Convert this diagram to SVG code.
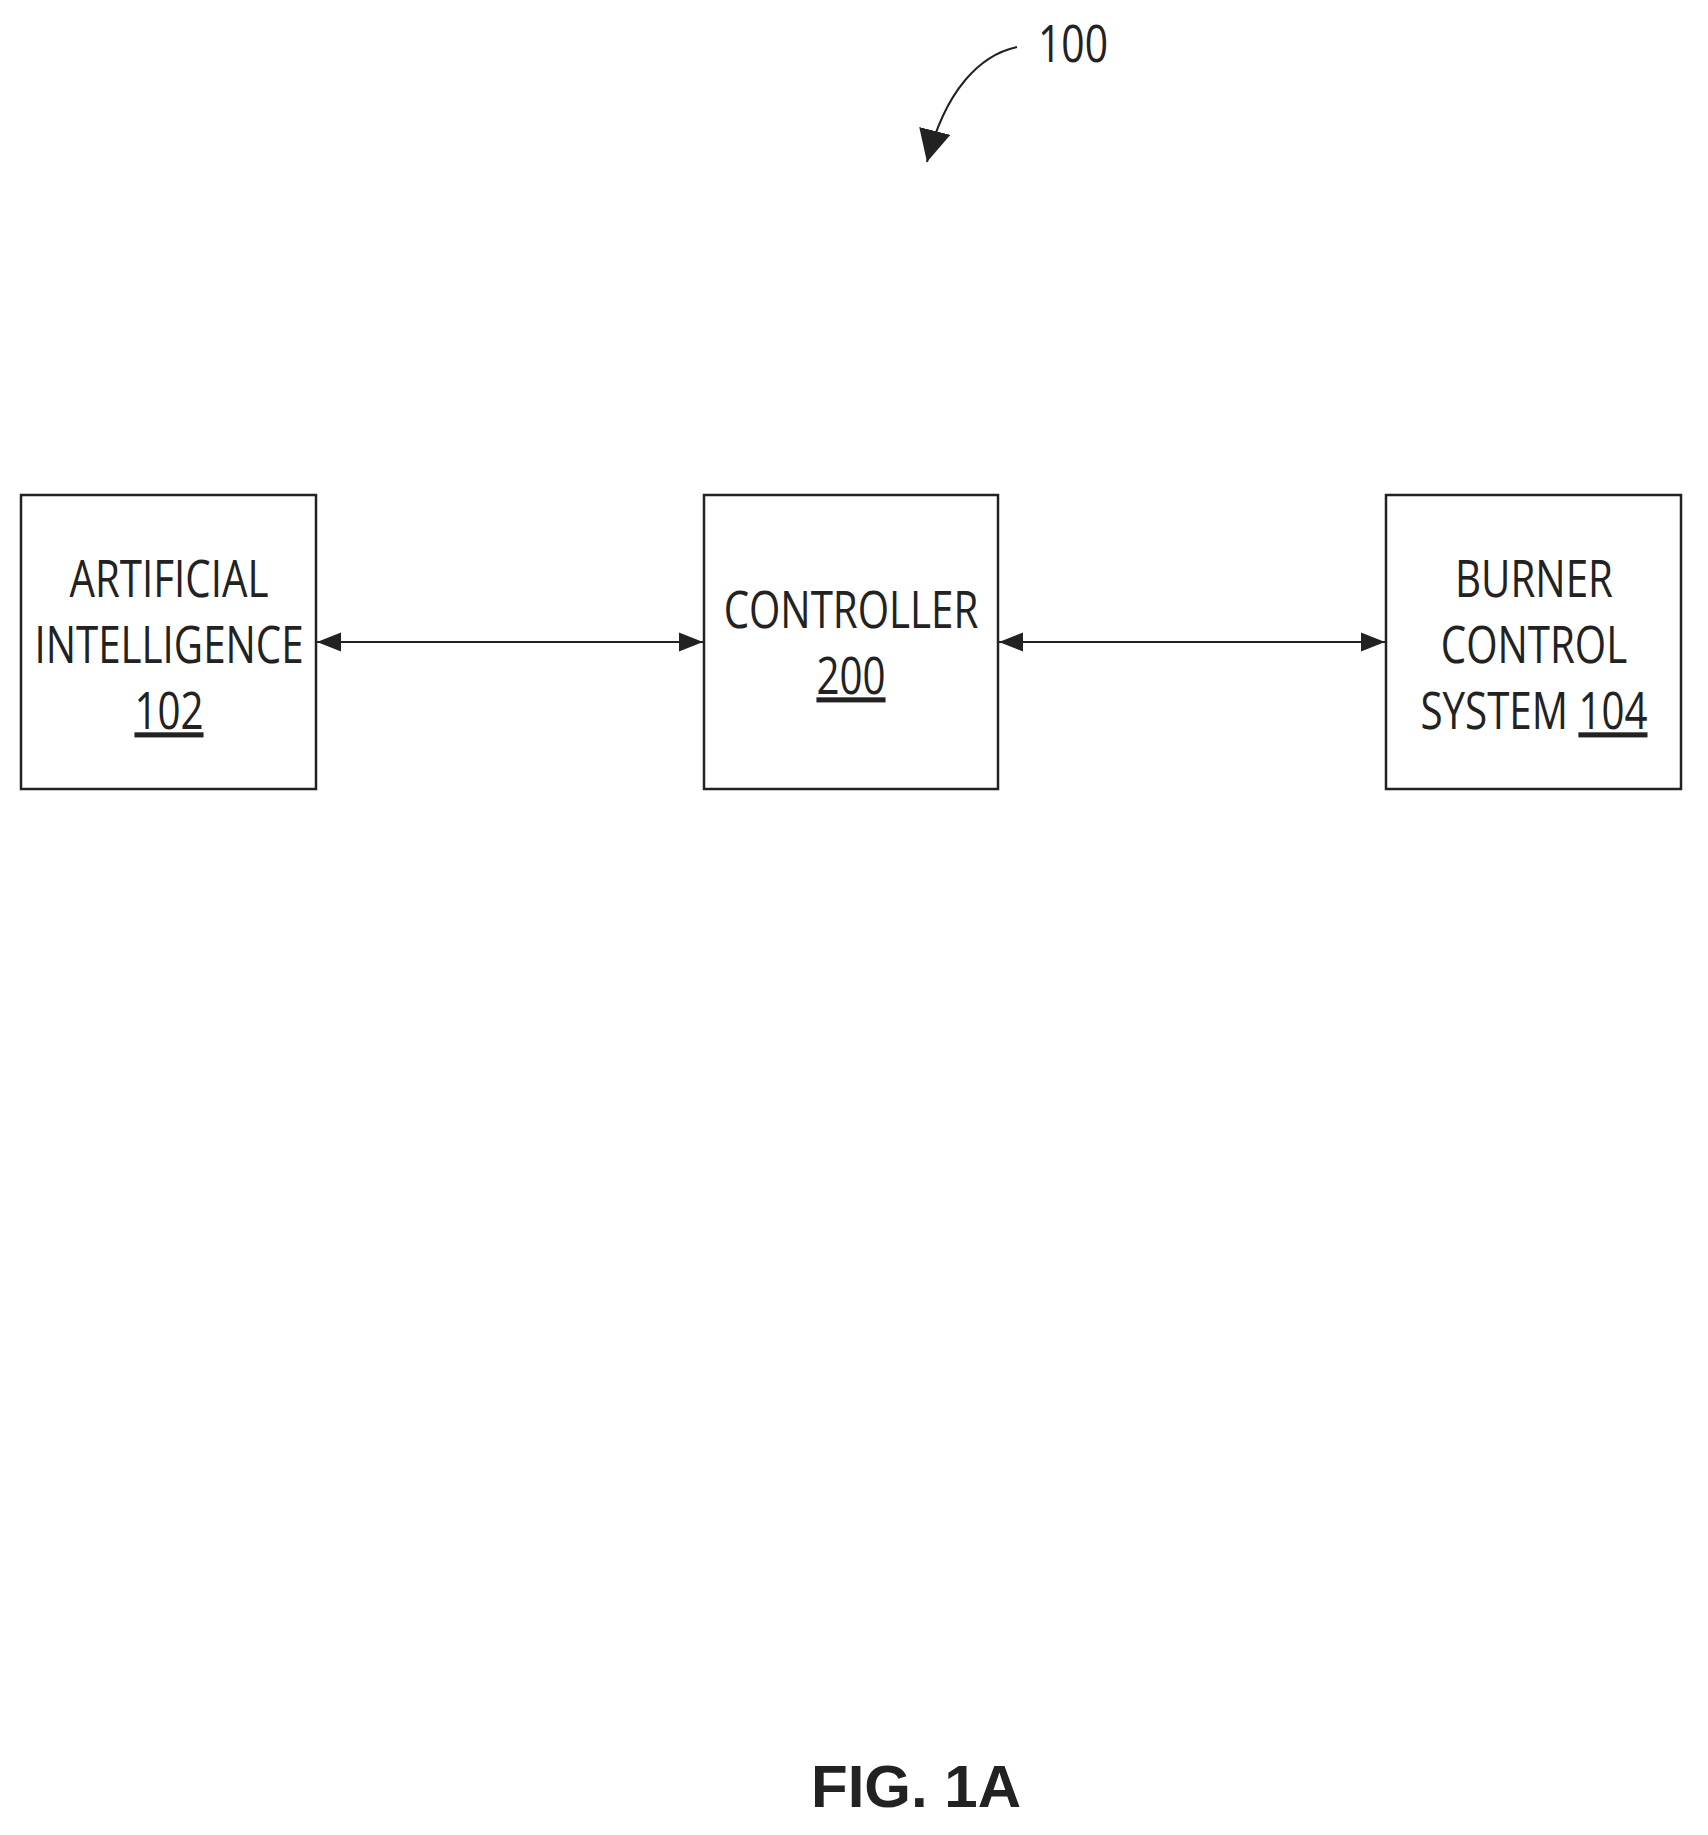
<svg xmlns="http://www.w3.org/2000/svg" width="1708" height="1835" viewBox="0 0 1708 1835">
<style>
.box{fill:#fff;stroke:#222;stroke-width:2.5}
.t{font-family:"Open Sans","Liberation Sans",sans-serif;font-size:51px;fill:#222;text-anchor:middle}
.c{stroke:#222;stroke-width:2;fill:none}
</style>
<defs>
<marker id="ab" viewBox="0 0 10 10" refX="10" refY="5" markerWidth="24" markerHeight="24" orient="auto-start-reverse" markerUnits="userSpaceOnUse"><path d="M0,1 L10,5 L0,9 z" fill="#222"/></marker>
<marker id="ac" viewBox="0 0 10 10" refX="10" refY="5" markerWidth="32" markerHeight="32" orient="auto" markerUnits="userSpaceOnUse"><path d="M0,0 L10,5 L0,10 z" fill="#222"/></marker>
</defs>
<rect width="1708" height="1835" fill="#fff"/>
<g id="n100">
<text class="t" x="1073" y="62" transform="translate(1073 0) scale(0.8 1) translate(-1073 0)">100</text>
</g>
<g id="n102">
<rect class="box" x="21" y="495" width="295" height="294"/>
<g transform="translate(169 0) scale(0.79 1) translate(-169 0)">
<text class="t" x="169" y="597">ARTIFICIAL</text>
<text class="t" x="169" y="663">INTELLIGENCE</text>
<text class="t" x="169" y="729" text-decoration="underline">102</text>
</g>
</g>
<g id="n200">
<rect class="box" x="704" y="495" width="294" height="294"/>
<g transform="translate(851 0) scale(0.79 1) translate(-851 0)">
<text class="t" x="851" y="628">CONTROLLER</text>
<text class="t" x="851" y="694" text-decoration="underline">200</text>
</g>
</g>
<g id="n104">
<rect class="box" x="1386" y="495" width="295" height="294"/>
<g transform="translate(1534 0) scale(0.79 1) translate(-1534 0)">
<text class="t" x="1534" y="597">BURNER</text>
<text class="t" x="1534" y="663">CONTROL</text>
<text class="t" x="1534" y="729">SYSTEM <tspan text-decoration="underline">104</tspan></text>
</g>
</g>
<g id="connectors">
<line class="c" x1="317" y1="642" x2="703" y2="642" marker-start="url(#ab)" marker-end="url(#ab)"/>
<line class="c" x1="999" y1="642" x2="1385" y2="642" marker-start="url(#ab)" marker-end="url(#ab)"/>
<path class="c" d="M1017,47 C980,55 945,90 927,162" marker-end="url(#ac)"/>
</g>
<text x="916" y="1807" style="font-family:'Liberation Sans',Arial,sans-serif;font-weight:bold;font-size:60px;fill:#222;text-anchor:middle">FIG. 1A</text>
</svg>
